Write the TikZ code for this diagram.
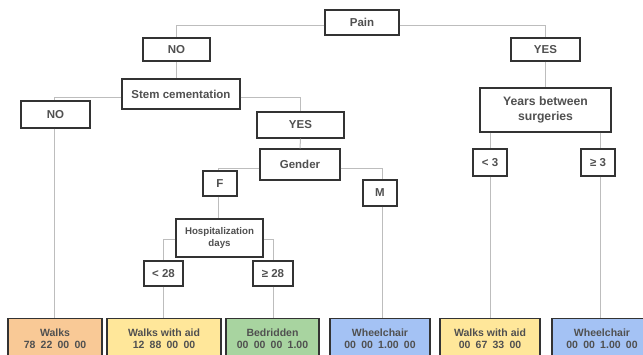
\documentclass[tikz,border=0pt]{standalone}
\usepackage{fontspec}
\setmainfont{Liberation Sans}
\definecolor{txt}{HTML}{505050}
\definecolor{edge}{HTML}{333333}
\definecolor{conn}{HTML}{BDBDBD}
\definecolor{lorange}{HTML}{F9C996}
\definecolor{lyellow}{HTML}{FFE79A}
\definecolor{lgreen}{HTML}{A8D4A0}
\definecolor{lblue}{HTML}{A4C2F4}
\tikzset{
  box/.style={draw=edge, line width=1.3pt, fill=white, inner sep=0pt, align=center,
    text=txt, font=\fontsize{11.5}{13}\selectfont\bfseries},
  leaf/.style={draw=edge, line width=1.3pt, inner sep=0pt, align=center, anchor=north,
    minimum height=43pt, text=txt, font=\fontsize{10.5}{12}\selectfont\bfseries},
  conn/.style={draw=conn, line width=1pt},
}
\begin{document}
\begin{tikzpicture}[x=1pt,y=-1pt]
\useasboundingbox (0,0) rectangle (643,354);
\clip (0,0) rectangle (643,354);
% decision nodes
\node[box, minimum width=74pt, minimum height=25pt] (pain) at (362,22.5) {Pain};
\node[box, minimum width=67pt, minimum height=23pt] (no1) at (176.5,49.5) {NO};
\node[box, minimum width=69pt, minimum height=23pt] (yes1) at (545.5,49.5) {YES};
\node[box, minimum width=118pt, minimum height=30pt] (stem) at (181,94) {Stem cementation};
\node[box, minimum width=69pt, minimum height=27pt] (no2) at (55.5,114.5) {NO};
\node[box, minimum width=87pt, minimum height=26pt] (yes2) at (300.5,125) {YES};
\node[box, minimum width=80pt, minimum height=31pt] (gender) at (300,164.5) {Gender};
\node[box, minimum width=34pt, minimum height=25pt] (f) at (220,183.5) {F};
\node[box, minimum width=34pt, minimum height=26pt] (m) at (380,193) {M};
\node[box, minimum width=87pt, minimum height=38pt, font=\fontsize{9.7}{12.5}\selectfont\bfseries] (hosp) at (219.5,238) {Hospitalization\\days};
\node[box, minimum width=39pt, minimum height=25pt] (lt28) at (163.5,273.5) {< 28};
\node[box, minimum width=40pt, minimum height=25pt] (ge28) at (273,273.5) {≥ 28};
\node[box, minimum width=131pt, minimum height=44pt, font=\fontsize{12.2}{15.5}\selectfont\bfseries] (years) at (545.5,110) {Years between\\surgeries};
\node[box, minimum width=34pt, minimum height=27pt] (lt3) at (490,162.5) {< 3};
\node[box, minimum width=34pt, minimum height=27pt] (ge3) at (598,162.5) {≥ 3};
% leaves
\node[leaf, fill=lorange, minimum width=94pt] (walks) at (55,318) {Walks\\78\enspace 22\enspace 00\enspace 00\strut};
\node[leaf, fill=lyellow, minimum width=114pt] (wwa1) at (164,318) {Walks with aid\\12\enspace 88\enspace 00\enspace 00\strut};
\node[leaf, fill=lgreen, minimum width=93pt] (bed) at (272.5,318) {Bedridden\\00\enspace 00\enspace 00\enspace 1.00\strut};
\node[leaf, fill=lblue, minimum width=100pt] (wc1) at (380,318) {Wheelchair\\00\enspace 00\enspace 1.00\enspace 00\strut};
\node[leaf, fill=lyellow, minimum width=100pt] (wwa2) at (490,318) {Walks with aid\\00\enspace 67\enspace 33\enspace 00\strut};
\node[leaf, fill=lblue, minimum width=100pt] (wc2) at (602,318) {Wheelchair\\00\enspace 00\enspace 1.00\enspace 00\strut};
% connectors
\path[conn] ([yshift=-2.5pt]pain.west) -| (no1.north);
\path[conn] ([yshift=-2.5pt]pain.east) -| (yes1.north);
\path[conn] (no1.south) -- (no1.south |- stem.north);
\path[conn] ([yshift=-3pt]stem.west) -| ([xshift=-1.5pt]no2.north);
\path[conn] ([yshift=-3pt]stem.east) -| (yes2.north);
\path[conn] (yes2.south) -- (gender.north);
\path[conn] ([yshift=-3.5pt]gender.west) -| ([xshift=-2pt]f.north);
\path[conn] ([yshift=-3.5pt]gender.east) -| ([xshift=2pt]m.north);
\path[conn] ([xshift=-2pt]f.south) -- ([xshift=-2pt]f.south |- hosp.north);
\path[conn] ([yshift=-1pt]hosp.west) -| (lt28.north);
\path[conn] ([yshift=-1pt]hosp.east) -| (ge28.north);
\path[conn] (lt28.south) -- (lt28.south |- wwa1.north);
\path[conn] (ge28.south) -- (ge28.south |- bed.north);
\path[conn] ([xshift=2pt]m.south) -- ([xshift=2pt]m.south |- wc1.north);
\path[conn] ([xshift=-1.5pt]no2.south) -- ([xshift=-1.5pt]no2.south |- walks.north);
\path[conn] (yes1.south) -- (yes1.south |- years.north);
\path[conn] (lt3.north |- years.south) -- (lt3.north);
\path[conn] ([xshift=2pt]ge3.north |- years.south) -- ([xshift=2pt]ge3.north);
\path[conn] (lt3.south) -- (lt3.south |- wwa2.north);
\path[conn] ([xshift=2pt]ge3.south) -- ([xshift=2pt]ge3.south |- wc2.north);
\end{tikzpicture}
\end{document}
